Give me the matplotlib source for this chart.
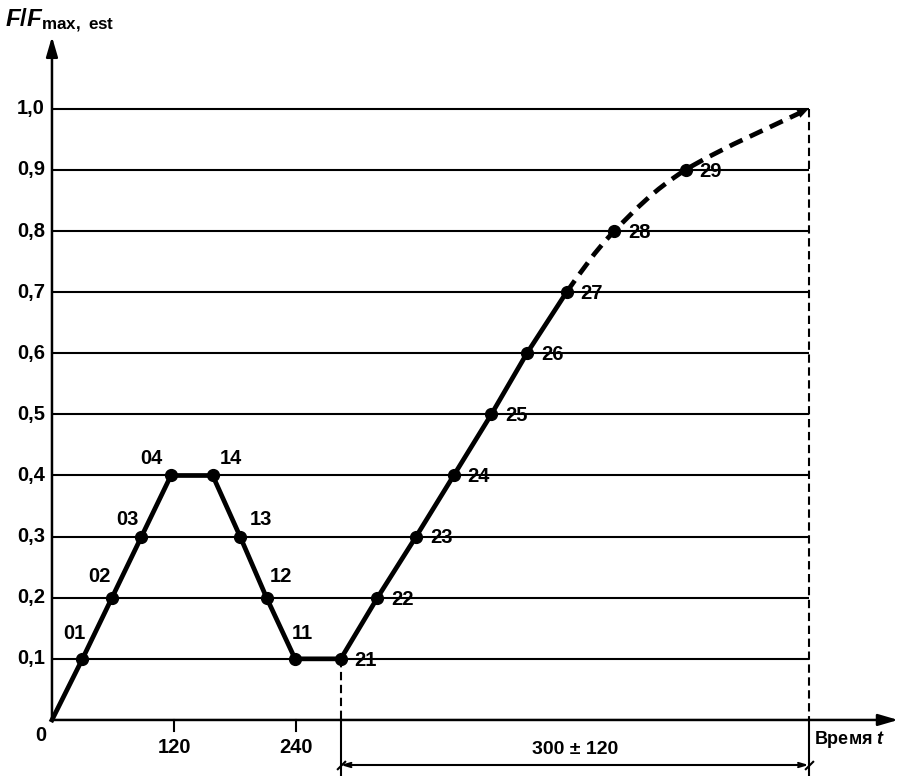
import matplotlib
matplotlib.use("Agg")
import matplotlib.pyplot as plt
from matplotlib.path import Path
from matplotlib.patches import PathPatch
import numpy as np

plt.rcParams["font.family"] = ["Liberation Sans", "DejaVu Sans"]
plt.rcParams["font.weight"] = "bold"
plt.rcParams["mathtext.fontset"] = "custom"
plt.rcParams["mathtext.rm"] = "Liberation Sans:bold"
plt.rcParams["mathtext.it"] = "Liberation Sans:italic:bold"

# loading steps (time, F/Fmax)
step_names = ["01", "02", "03", "04", "14", "13", "12", "11",
              "21", "22", "23", "24", "25", "26", "27", "28", "29"]
step_t = [30, 59, 88, 117, 158, 185, 211, 239,
          284, 320, 358, 395, 432, 467, 506, 553, 623]
step_f = [0.1, 0.2, 0.3, 0.4, 0.4, 0.3, 0.2, 0.1,
          0.1, 0.2, 0.3, 0.4, 0.5, 0.6, 0.7, 0.8, 0.9]
end_t, end_f = 744, 1.0
levels = [0.1, 0.2, 0.3, 0.4, 0.5, 0.6, 0.7, 0.8, 0.9, 1.0]
level_labels = ["0,1", "0,2", "0,3", "0,4", "0,5", "0,6", "0,7", "0,8", "0,9", "1,0"]
x_ticks = [120, 240]
span_label = "300 ± 120"

# label offsets in points (dx, dy, ha)
label_pos = {
    "01": (-6, 18, "center"), "02": (-9, 15, "center"), "03": (-10, 12, "center"),
    "04": (-14, 12, "center"), "14": (13, 12, "center"), "13": (15, 12, "center"),
    "12": (10, 15, "center"), "11": (5, 18, "center"),
}

fig = plt.figure(figsize=(9.07, 7.76), dpi=100)
ax = fig.add_axes([0, 0, 1, 1])
ax.set_xlim(-51.1, 840.7)
ax.set_ylim(-0.0917, 1.178)
ax.axis("off")

# horizontal level lines
for lv in levels:
    ax.plot([0, end_t], [lv, lv], color="black", lw=1.5, solid_capstyle="butt", zorder=1)

# axes with arrows
ax.annotate("", xy=(832, 0), xytext=(0, 0),
            arrowprops=dict(arrowstyle="-|>,head_length=1.2,head_width=0.35",
                            lw=1.8, color="black", shrinkA=0, shrinkB=0))
ax.annotate("", xy=(0, 1.118), xytext=(0, 0),
            arrowprops=dict(arrowstyle="-|>,head_length=1.2,head_width=0.35",
                            lw=1.8, color="black", shrinkA=0, shrinkB=0))

# solid path from origin through steps 01..27
i27 = step_names.index("27")
ax.plot([0] + step_t[:i27 + 1], [0] + step_f[:i27 + 1], color="black", lw=3.4,
        solid_joinstyle="round", zorder=3)

# dashed smooth curve 27 -> 28 -> 29 -> end (Catmull-Rom as Bezier)
pts = np.array([[step_t[i27 - 1], step_f[i27 - 1]]] +
               [[t, f] for t, f in zip(step_t[i27:], step_f[i27:])] +
               [[end_t, end_f], [end_t, end_f]])
verts = [pts[1]]
codes = [Path.MOVETO]
for i in range(1, len(pts) - 2):
    p0, p1, p2, p3 = pts[i - 1], pts[i], pts[i + 1], pts[i + 2]
    c1 = p1 + (p2 - p0) / 6.0
    c2 = p2 - (p3 - p1) / 6.0
    verts += [c1, c2, p2]
    codes += [Path.CURVE4] * 3
ax.add_patch(PathPatch(Path(verts, codes), fill=False, edgecolor="black", lw=3.4,
                       linestyle=(0, (3.0, 1.7)), capstyle="butt", zorder=3))
back = verts[-2]
ax.annotate("", xy=(end_t, end_f), xytext=(back[0], back[1]),
            arrowprops=dict(arrowstyle="-|>,head_length=0.8,head_width=0.3",
                            lw=0.1, color="black", shrinkA=0, shrinkB=0))

# step markers
ax.plot(step_t, step_f, "o", color="black", ms=8.5, zorder=4)

for name, t, f in zip(step_names, step_t, step_f):
    if name in label_pos:
        dx, dy, ha = label_pos[name]
    else:
        dx, dy, ha = (10, -1, "left")
    ax.annotate(name, xy=(t, f), xytext=(dx, dy), textcoords="offset points",
                ha=ha, va="center", fontsize=14.5)

# y tick labels
for lv, lab in zip(levels, level_labels):
    ax.annotate(lab, xy=(0, lv), xytext=(-5, 0), textcoords="offset points",
                ha="right", va="center", fontsize=14.5)
ax.annotate("0", xy=(0, 0), xytext=(-8, -11), textcoords="offset points",
            ha="center", va="center", fontsize=14.5)

# x ticks
for xt in x_ticks:
    ax.plot([xt, xt], [0, -0.018], color="black", lw=1.5)
    ax.annotate(str(xt), xy=(xt, 0), xytext=(0, -20), textcoords="offset points",
                ha="center", va="center", fontsize=14.5)

# axis titles
ax.annotate(r"$F/F_{\mathregular{max,\ est}}$", xy=(0, 1.118), xytext=(-34, 11),
            textcoords="offset points", ha="left", va="center", fontsize=17.5)
ax.annotate(r"Время $t$", xy=(832, 0), xytext=(-35, -14), textcoords="offset points",
            ha="center", va="center", fontsize=13)

# extension lines and dimension
t21 = step_t[step_names.index("21")]
for t, f in [(t21, 0.1), (end_t, end_f)]:
    ax.plot([t, t], [f, 0], color="black", lw=1.5, linestyle=(0, (4, 2.2)), zorder=2)
    ax.plot([t, t], [0, -0.0917], color="black", lw=1.5, zorder=2)
dim_y = -0.0737
ax.annotate("", xy=(end_t, dim_y), xytext=(t21, dim_y),
            arrowprops=dict(arrowstyle="<->,head_length=0.5,head_width=0.15",
                            lw=1.5, color="black", shrinkA=0, shrinkB=0))
ax.plot([t21, end_t], [dim_y, dim_y], linestyle="none", marker=(2, 0, -45),
        ms=9, mew=1.5, color="black")
ax.annotate(span_label, xy=((t21 + end_t) / 2, dim_y), xytext=(0, 11),
            textcoords="offset points", ha="center", va="center", fontsize=14)

fig.savefig("out.png", dpi=100)
